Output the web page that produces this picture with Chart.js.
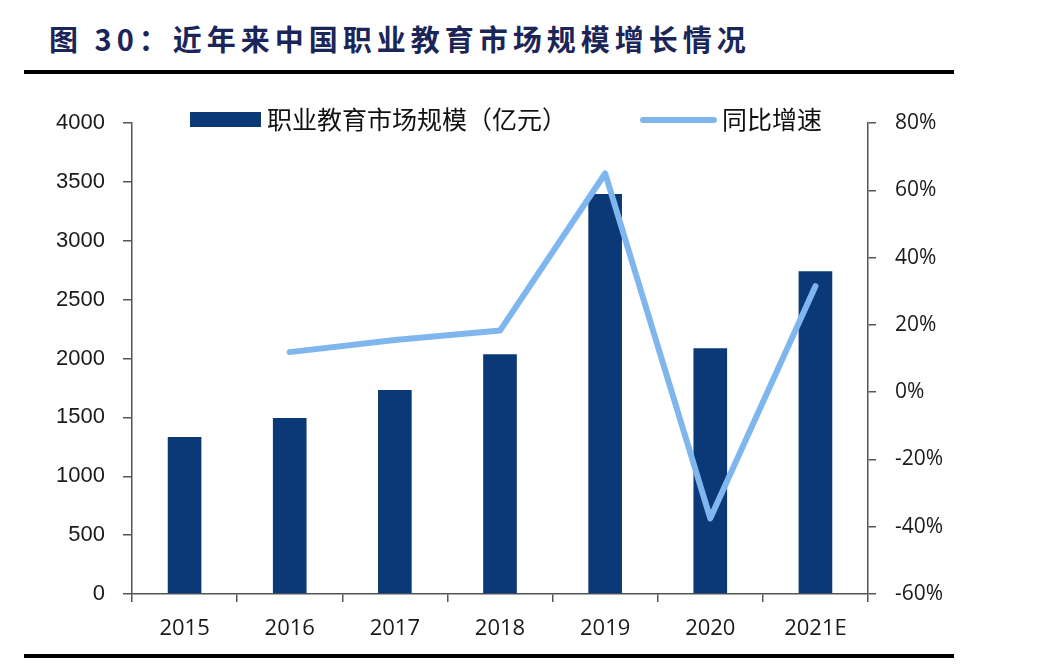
<!DOCTYPE html>
<html>
<head>
<meta charset="utf-8">
<script src="https://cdn.jsdelivr.net/npm/chart.js@4"></script>
<style>
  body { margin: 0; background: #fff; width: 1048px; height: 666px; position: relative; overflow: hidden; }
  #title {
    position: absolute; left: 49px; top: 17px;
    font-family: "Noto Sans CJK SC", sans-serif; font-weight: bold;
    font-size: 29px; letter-spacing: 5px; color: #1b2558; white-space: nowrap;
  }
  .rule { position: absolute; left: 24px; width: 930px; height: 4px; background: #000; }
  #wrap { position: absolute; left: 0; top: 90px; width: 1048px; height: 562px; }
  .sw { position: absolute; }
  .lg {
    position: absolute; font-family: "Noto Sans CJK SC", sans-serif;
    font-size: 25px; color: #111; white-space: nowrap; line-height: 30px;
  }
</style>
</head>
<body>
<div id="title">图 30：近年来中国职业教育市场规模增长情况</div>
<div class="rule" style="top:70px"></div>
<div class="rule" style="top:654px"></div>
<div id="wrap"><canvas id="chart"></canvas></div>

<div class="sw" style="left:190px;top:112px;width:71px;height:15px;background:#0b3876;"></div>
<div class="lg" style="left:267px;top:103px;">职业教育市场规模（亿元）</div>
<div class="sw" style="left:640px;top:117px;width:77px;height:6px;border-radius:3px;background:#7fb6ee;"></div>
<div class="lg" style="left:722px;top:103px;">同比增速</div>

<script>
// data
const years = ["2015", "2016", "2017", "2018", "2019", "2020", "2021E"];
const marketSize = [1333, 1494, 1732, 2037, 3396, 2088, 2742];   // 亿元
const growthRate = [null, 11.9, 15.5, 18.3, 65, -37.5, 31.5];   // %

const leftTicks = { min: 0, max: 4000, step: 500 };
const rightTicks = { min: -60, max: 80, step: 20 };

const axisColor = "#555";
const labelColor = "#1a1a1a";

const ctx = document.getElementById("chart").getContext("2d");

new Chart(ctx, {
    type: "bar",
    data: {
        labels: years,
        datasets: [
            {
                type: "line",
                label: "同比增速",
                data: growthRate,
                yAxisID: "y1",
                borderColor: "#7fb6ee",
                borderWidth: 6,
                borderCapStyle: "round",
                borderJoinStyle: "round",
                pointRadius: 0,
                tension: 0,
                spanGaps: false,
                order: 0
            },
            {
                label: "职业教育市场规模（亿元）",
                data: marketSize,
                yAxisID: "y",
                backgroundColor: "#0b3876",
                categoryPercentage: 1,
                barPercentage: 0.32,
                order: 1
            }
        ]
    },
    options: {
        responsive: true,
        maintainAspectRatio: false,
        animation: false,
        layout: { padding: { top: 33, left: 0, right: 0, bottom: 0 } },
        plugins: {
            legend: { display: false },
            tooltip: { enabled: false }
        },
        scales: {
            x: {
                grid: { drawOnChartArea: false, offset: true, tickLength: 8, color: axisColor, lineWidth: 1.5 },
                border: { color: axisColor, width: 1.5 },
                ticks: {
                    color: labelColor,
                    font: { family: "Open Sans", size: 22 },
                    padding: 14,
                    maxRotation: 0
                },
                afterFit: s => { s.height = 58; }
            },
            y: {
                position: "left",
                min: leftTicks.min,
                max: leftTicks.max,
                grid: { drawOnChartArea: false, tickLength: 9, color: axisColor, lineWidth: 1.5 },
                border: { color: axisColor, width: 1.5 },
                ticks: {
                    stepSize: leftTicks.step,
                    color: labelColor,
                    font: { family: "Liberation Sans", size: 22 },
                    padding: 18,
                    callback: v => String(v)
                },
                afterFit: s => { s.width = 132; }
            },
            y1: {
                position: "right",
                min: rightTicks.min,
                max: rightTicks.max,
                grid: { drawOnChartArea: false, tickLength: 8, color: axisColor, lineWidth: 1.5 },
                border: { color: axisColor, width: 1.5 },
                ticks: {
                    stepSize: rightTicks.step,
                    color: labelColor,
                    font: { family: "Open Sans", size: 21 },
                    padding: 19,
                    callback: v => v + "%"
                },
                afterFit: s => { s.width = 180; }
            }
        }
    }
});
</script>
</body>
</html>
